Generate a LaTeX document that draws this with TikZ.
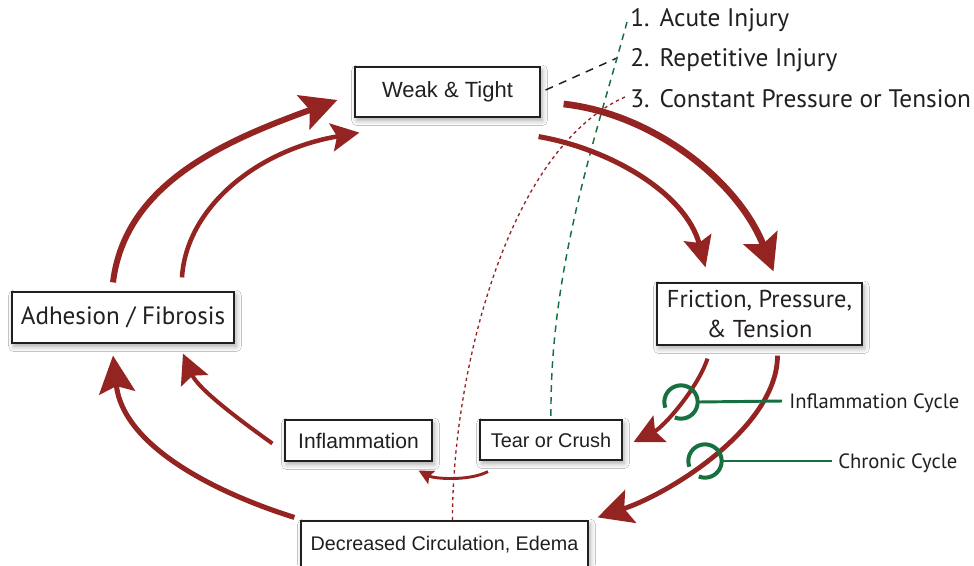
\documentclass[tikz,border=0pt]{standalone}
\usepackage{fontspec}
\setmainfont{Liberation Sans}
\newfontfamily\myriad{PT Sans}
\usepackage{tikz}
\usetikzlibrary{arrows.meta, calc, shadows.blur}
\definecolor{cyclered}{RGB}{148, 36, 34}
\definecolor{linkgreen}{RGB}{22, 112, 64}
\definecolor{inkgray}{RGB}{35, 31, 32}

\tikzset{
  stagebox/.style={draw=inkgray, line width=0.9pt, fill=white, inner sep=0pt,
    text=inkgray, align=center,
    blur shadow={shadow xshift=1.5pt, shadow yshift=-2.5pt, shadow blur radius=4pt, shadow opacity=35}},
  flow/.style={draw=cyclered, line width=#1},
  ring/.style={draw=linkgreen, line width=3pt},
  tie/.style={draw=linkgreen, line width=2.2pt},
  label/.style={anchor=west, inner sep=0pt, text=inkgray},
}

\begin{document}
\begin{tikzpicture}[x=0.75pt, y=-0.75pt]
  \clip (0,0) rectangle (974,565);
  \fill[white] (0,0) rectangle (974,565);

  % Causes
  \node[label, font=\myriad\fontsize{19}{22}\selectfont] (item1) at (630,20) {1.\hspace{0.4em}Acute Injury};
  \node[label, font=\myriad\fontsize{19}{22}\selectfont] (item2) at (630,60) {2.\hspace{0.4em}Repetitive Injury};
  \node[label, font=\myriad\fontsize{19}{22}\selectfont] (item3) at (630,99) {3.\hspace{0.4em}Constant Pressure or Tension};

  % Stages
  \node[stagebox, minimum width=138.75pt, minimum height=37.5pt, font=\fontsize{16.5}{19}\selectfont] (weak) at (447.5,92) {Weak \& Tight};
  \node[stagebox, minimum width=153.75pt, minimum height=46.5pt, font=\myriad\fontsize{18.3}{22.5}\selectfont] (fric) at (759.5,314) {Friction, Pressure,\\\& Tension};
  \node[stagebox, minimum width=166.5pt, minimum height=38.25pt, font=\myriad\fontsize{18.8}{20}\selectfont] (adh) at (123,317.5) {Adhesion / Fibrosis};
  \node[stagebox, minimum width=110.25pt, minimum height=30.75pt, font=\fontsize{15.8}{18}\selectfont] (infl) at (358.5,440.5) {Inflammation};
  \node[stagebox, minimum width=106.5pt, minimum height=30pt, font=\fontsize{14.9}{17}\selectfont] (tear) at (551,440) {Tear or Crush};
  \node[stagebox, minimum width=215.25pt, minimum height=36pt, font=\fontsize{14.8}{17}\selectfont] (dec) at (444.5,545) {Decreased Circulation, Edema};

  % Cause lines
  \draw[inkgray, line width=1.1pt, dash pattern=on 6pt off 5pt] ($(weak.east)+(5,-2)$) -- ($(item2.west)+(-13,-2)$);
  \draw[linkgreen, line width=1.1pt, dash pattern=on 5pt off 4pt]
    ($(item1.west)+(-3,2)$) .. controls (598,130) and (549,268) .. (tear.north);
  \draw[cyclered, line width=1pt, dash pattern=on 2.5pt off 2.5pt]
    ($(item3.west)+(-5,-2)$) .. controls (505,150) and (452,380) .. ($(dec.north)+(8,0)$);

  % Adhesion back to Weak & Tight
  \draw[flow=4.5pt, -{Stealth[length=27pt, width=27pt, inset=5pt]}]
    ($(adh.north)+(-10,-9)$) .. controls +(12,-100) and +(-110,40) .. ($(weak.west)+(-17,8)$);
  \draw[flow=3.4pt, -{Stealth[length=21pt, width=21pt, inset=4pt]}]
    ($(adh.north)+(59,-14)$) .. controls +(4,-68) and +(-105,18) .. ($(weak.south west)+(5,15)$);

  % Weak & Tight to Friction
  \draw[flow=5pt, -{Stealth[length=27pt, width=27pt, inset=5pt]}]
    ($(weak.east)+(23,12)$) .. controls +(90,10) and +(-35,-90) .. ($(fric.north)+(14,-11)$);
  \draw[flow=3.8pt, -{Stealth[length=23pt, width=21pt, inset=4pt]}]
    ($(weak.south east)+(-2,19)$) .. controls +(70,12) and +(-20,-75) .. ($(fric.north)+(-54,-15)$);

  % Inflammation cycle
  \draw[flow=3pt, -{Stealth[length=22pt, width=22pt, inset=4pt]}]
    ($(fric.south)+(-52,13)$) .. controls +(-10,30) and +(30,-15) .. ($(tear.east)+(11,2)$);
  \draw[flow=2.2pt, -{Stealth[length=11pt, width=11pt, inset=2pt]}]
    ($(tear.south)+(-63,11)$) .. controls +(-20,10) and +(15,8) .. ($(infl.south east)+(-14,9)$);
  \draw[flow=3pt, -{Stealth[length=22pt, width=22pt, inset=4pt]}]
    ($(infl.west)+(-12,3)$) .. controls +(-35,-25) and +(15,35) .. ($(adh.south)+(60,10)$);

  % Chronic cycle
  \draw[flow=3.6pt, -{Stealth[length=26pt, width=26pt, inset=5pt]}]
    ($(fric.south)+(18,10)$) .. controls +(0,70) and +(75,-25) .. ($(dec.north east)+(9,-3)$);
  \draw[flow=3.8pt, -{Stealth[length=28pt, width=27pt, inset=5pt]}]
    ($(dec.north west)+(-6,-3)$) .. controls +(-80,-25) and +(10,90) .. ($(adh.south)+(-10,12)$);

  % Cycle markers
  \node[label, font=\myriad\fontsize{15.5}{18}\selectfont] (infcyc) at (789,403) {Inflammation Cycle};
  \node[label, font=\myriad\fontsize{15.5}{18}\selectfont] (chrcyc) at (838,463) {Chronic Cycle};
  \coordinate (infring) at (681,402);
  \coordinate (chrring) at (705,461);
  \draw[ring] ([shift={(-112:12.5pt)}]infring) arc[start angle=-112, end angle=200, radius=12.5pt];
  \draw[ring] ([shift={(-112:12.5pt)}]chrring) arc[start angle=-112, end angle=200, radius=12.5pt];
  \draw[tie] ([shift={(12.5pt,0pt)}]infring) -- ($(infcyc.west)+(-7,-2)$);
  \draw[tie] ([shift={(12.5pt,0pt)}]chrring) -- ($(chrcyc.west)+(-6,-2)$);
\end{tikzpicture}
\end{document}
